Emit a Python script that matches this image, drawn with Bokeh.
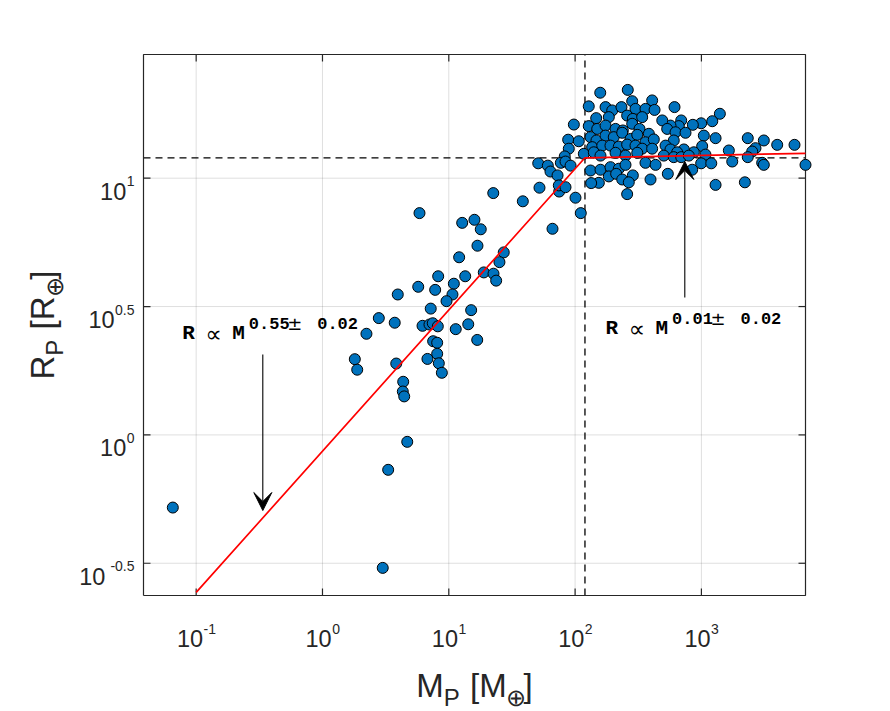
import numpy as np
from bokeh.plotting import figure
from bokeh.models import Range1d, Arrow, VeeHead
from bokeh.core.properties import value
from bokeh.embed import file_html
from bokeh.resources import INLINE

# ---------------------------------------------------------------------------
# Planet sample: log10 of mass [M_earth] and log10 of radius [R_earth]
# ---------------------------------------------------------------------------
small_log_mass = [-1.185, 0.477, 0.520, 0.671, 0.639, 0.636, 0.647, 0.584, 0.256, 0.275,
                  0.348, 0.446, 0.572, 0.596, 0.758, 0.892, 1.040, 1.029, 0.982, 0.857,
                  0.792, 0.847, 0.873, 0.913, 0.876, 0.908, 0.831, 0.908, 0.921, 0.945,
                  1.055, 1.154, 1.177, 1.225]
small_log_radius = [-0.283, -0.518, -0.136, -0.027, 0.207, 0.169, 0.150, 0.278, 0.295, 0.254,
                    0.394, 0.455, 0.437, 0.547, 0.577, 0.565, 0.589, 0.547, 0.521, 0.492,
                    0.425, 0.430, 0.435, 0.423, 0.365, 0.359, 0.296, 0.316, 0.279, 0.242,
                    0.412, 0.431, 0.486, 0.370]

mid_log_mass = [0.768, 1.106, 1.203, 1.253, 1.352, 1.586, 1.874, 2.045, 1.821, 1.227,
                1.082, 1.435, 1.401, 1.277, 1.354, 1.375, 1.130, 0.916]
mid_log_radius = [0.864, 0.826, 0.838, 0.801, 0.942, 0.910, 0.948, 0.864, 0.803, 0.737,
                  0.692, 0.711, 0.673, 0.633, 0.628, 0.601, 0.618, 0.618]

giant_log_mass = [2.199, 2.417, 2.452, 2.610, 2.108, 2.241, 2.294, 2.367, 2.478, 2.557,
                  2.629, 2.167, 2.267, 2.412, 2.457, 2.531, 1.990, 2.108, 2.175, 2.241,
                  2.320, 2.378, 2.452, 2.510, 2.584, 1.945, 2.029, 2.122, 2.169, 2.241,
                  2.306, 2.373, 2.439, 2.492, 2.557, 2.623, 1.950, 2.135, 2.215, 2.280,
                  2.346, 2.412, 2.478, 2.531, 2.610, 1.918, 2.069, 2.148, 2.201, 2.320,
                  2.399, 2.492, 2.557, 2.637, 1.708, 1.784, 1.805, 1.861, 1.887, 1.924,
                  1.964, 2.122, 2.201, 2.280, 2.346, 2.399, 2.457, 2.267, 2.325, 2.188,
                  2.373, 2.425, 2.597, 1.718, 1.871, 1.924, 2.003, 2.412, 2.127]
giant_log_radius = [1.333, 1.344, 1.300, 1.303, 1.280, 1.277, 1.264, 1.277, 1.270, 1.270,
                    1.266, 1.234, 1.238, 1.244, 1.231, 1.238, 1.209, 1.203, 1.192, 1.205,
                    1.192, 1.186, 1.212, 1.192, 1.173, 1.150, 1.144, 1.160, 1.147, 1.166,
                    1.160, 1.177, 1.153, 1.169, 1.140, 1.151, 1.115, 1.121, 1.127, 1.127,
                    1.123, 1.131, 1.127, 1.115, 1.115, 1.085, 1.095, 1.101, 1.088, 1.099,
                    1.088, 1.099, 1.060, 1.052, 1.058, 1.049, 1.026, 1.011, 1.060, 1.065,
                    1.049, 1.030, 1.033, 1.043, 1.037, 1.052, 1.011, 1.007, 1.017, 0.982,
                    0.995, 0.984, 0.995, 0.963, 0.972, 0.965, 0.924, 0.938, 0.981]

heavy_log_mass = [2.787, 3.146, 3.086, 2.998, 2.932, 2.840, 2.821, 2.755, 2.690, 2.729,
                  2.795, 2.874, 3.019, 3.112, 3.367, 3.494, 3.600, 3.737, 3.428, 3.402,
                  3.217, 3.006, 2.940, 2.861, 2.781, 2.716, 2.755, 2.808, 2.702, 2.781,
                  2.840, 2.900, 3.032, 3.367, 2.998, 3.078, 3.244, 3.481, 3.494, 3.824,
                  2.927, 2.734, 3.112, 3.344]
heavy_log_radius = [1.277, 1.251, 1.222, 1.214, 1.208, 1.225, 1.203, 1.205, 1.225, 1.192,
                    1.179, 1.177, 1.166, 1.156, 1.156, 1.147, 1.130, 1.130, 1.117, 1.104,
                    1.108, 1.125, 1.101, 1.112, 1.147, 1.127, 1.112, 1.101, 1.088, 1.082,
                    1.082, 1.088, 1.092, 1.082, 1.058, 1.058, 1.065, 1.060, 1.052, 1.052,
                    1.033, 1.017, 0.974, 0.984]

# Broken power-law fit  R ∝ M^alpha
break_log_mass = 2.078
break_log_radius = 1.0795
alpha_low, alpha_high, alpha_err = 0.55, 0.01, 0.02
fit_log_mass_start = -1.0

# Axis decorations
x_tick_exponents = [-1, 0, 1, 2, 3]
y_tick_exponents = [-0.5, 0, 0.5, 1]
x_tick_texts = ["-1", "0", "1", "2", "3"]
y_tick_texts = ["-0.5", "0", "0.5", "1"]

# ---------------------------------------------------------------------------
log_mass = np.array(small_log_mass + mid_log_mass + giant_log_mass + heavy_log_mass)
log_radius = np.array(small_log_radius + mid_log_radius + giant_log_radius + heavy_log_radius)
mass = 10.0 ** log_mass
radius = 10.0 ** log_radius

# Axes box limits (log10) and where the box sits on the page
X_LO, X_HI = -1.417, float(log_mass.max())
Y_LO, Y_HI = -0.6256, 1.4819
W, H = 890, 711
FL, FR, FT, FB = 143, 805, 54, 595

# The plotting frame spans the whole page, so the scales are extended to
# put the axes box at FL..FR / FT..FB and leave room for labels around it.
PPD_X = (FR - FL) / (X_HI - X_LO)          # pixels per decade
PPD_Y = (FB - FT) / (Y_HI - Y_LO)
CX0, CX1 = X_LO - FL / PPD_X, X_HI + (W - FR) / PPD_X
CY0, CY1 = Y_LO - (H - FB) / PPD_Y, Y_HI + FT / PPD_Y

p = figure(width=W, height=H, x_axis_type="log", y_axis_type="log",
           x_range=Range1d(10 ** CX0, 10 ** CX1), y_range=Range1d(10 ** CY0, 10 ** CY1),
           x_axis_location=None, y_axis_location=None,
           output_backend="svg", toolbar_location=None, title=None,
           min_border=0, background_fill_color="white", border_fill_color="white",
           outline_line_color=None)
p.grid.visible = False

AX = "#262626"
xl, xh, yl, yh = 10 ** X_LO, 10 ** X_HI, 10 ** Y_LO, 10 ** Y_HI
xticks = [10.0 ** e for e in x_tick_exponents]
yticks = [10.0 ** e for e in y_tick_exponents]

# Grid
p.segment(x0=xticks, y0=[yl] * len(xticks), x1=xticks, y1=[yh] * len(xticks),
          line_color=AX, line_alpha=0.15, line_width=1)
p.segment(x0=[xl] * len(yticks), y0=yticks, x1=[xh] * len(yticks), y1=yticks,
          line_color=AX, line_alpha=0.15, line_width=1)

# Dashed guides through the break point, across the whole box
bm, br = 10 ** break_log_mass, 10 ** break_log_radius
p.segment(x0=[bm, xl], y0=[yl, br], x1=[bm, xh], y1=[yh, br],
          line_color="black", line_dash="7 5", line_width=1.3)

# Axes box with inward ticks on all four sides
p.line([xl, xh, xh, xl, xl], [yl, yl, yh, yh, yl], line_color=AX, line_width=1.2)
TICK = 7
ty_lo, ty_hi = 10 ** (Y_LO + TICK / PPD_Y), 10 ** (Y_HI - TICK / PPD_Y)
tx_lo, tx_hi = 10 ** (X_LO + TICK / PPD_X), 10 ** (X_HI - TICK / PPD_X)
n = len(xticks)
p.segment(x0=xticks * 2, y0=[yl] * n + [yh] * n, x1=xticks * 2, y1=[ty_lo] * n + [ty_hi] * n,
          line_color=AX, line_width=1.2)
m = len(yticks)
p.segment(x0=[xl] * m + [xh] * m, y0=yticks * 2, x1=[tx_lo] * m + [tx_hi] * m, y1=yticks * 2,
          line_color=AX, line_width=1.2)

# Planets
p.scatter(mass, radius, size=11, marker="circle", fill_color="#0072BD",
          line_color="black", line_width=1)

# Fitted broken power law
fit_log_mass = np.array([fit_log_mass_start, break_log_mass, X_HI])
fit_log_radius = np.where(fit_log_mass < break_log_mass,
                          break_log_radius + alpha_low * (fit_log_mass - break_log_mass),
                          break_log_radius + alpha_high * (fit_log_mass - break_log_mass))
p.line(10 ** fit_log_mass, 10 ** fit_log_radius, line_color="red", line_width=1.7)


# ---------------------------------------------------------------------------
# Page-pixel helpers for text placement
def sx(px):
    return 10 ** (CX0 + px / PPD_X)


def sy(py):
    return 10 ** (CY1 - py / PPD_Y)


def tick_px(e):
    return (e - CX0) * PPD_X


def tick_py(e):
    return (CY1 - e) * PPD_Y


EM = {"M": 0.833, "R": 0.722, "P": 0.667, " ": 0.278, "[": 0.278, "]": 0.278,
      "-": 0.333, ".": 0.278, "\u2295": 0.70}


def text_width(s, size):
    return sum(EM.get(c, 0.556) for c in s) * size


def add_text(px, py, text, size, font="Liberation Sans", style="normal",
             align="left", angle=0.0, color=AX):
    p.text(x=[sx(px)], y=[sy(py)], text=[text], text_font=value(font),
           text_font_size=value(f"{size}px"), text_font_style=style,
           text_align=align, text_baseline="alphabetic", angle=angle,
           text_color=color)


# Tick labels: 10 with a raised exponent
BASE, SUP = 23.5, 14
for e, s in zip(x_tick_exponents, x_tick_texts):
    w10, ws = text_width("10", BASE), text_width(s, SUP)
    j = tick_px(e) + (w10 - ws) / 2
    add_text(j, FB + 43, "10", BASE, align="right")
    add_text(j + 0.5, FB + 33, s, SUP, align="left")

for e, s in zip(y_tick_exponents, y_tick_texts):
    ws = text_width(s, SUP)
    right = FL - 9
    gap = 5 if s.startswith("-") else 0.5
    add_text(right, tick_py(e) + 3, s, SUP, align="right")
    add_text(right - ws - gap, tick_py(e) + 13, "10", BASE, align="right")

# Axis titles  M_P [M_⊕]  and  R_P [R_⊕]  laid out piece by piece
TITLE, SUB, DROP = 33, 24, 12


def title_pieces(letter):
    # (text, size, drop below baseline, extra advance before the piece)
    return [(letter, TITLE, 0, 0), ("P", SUB, DROP, 0), ("[", TITLE, 0, 0.278 * TITLE + 1),
            (letter, TITLE, 0, 0), ("\u2295", SUB, DROP, -1), ("]", TITLE, 0, 1)]


def title_length(pieces):
    return sum(text_width(t, s) + a for t, s, _, a in pieces)


pieces = title_pieces("M")
cx = (FL + FR) / 2 - title_length(pieces) / 2
for t, s, d, a in pieces:
    cx += a
    add_text(cx, 685 + d, t, s)
    cx += text_width(t, s)

pieces = title_pieces("R")
cy = (FT + FB) / 2 + title_length(pieces) / 2
for t, s, d, a in pieces:
    cy -= a
    add_text(42 + d, cy, t, s, angle=np.pi / 2)
    cy -= text_width(t, s)


# Power-law annotations with arrows
def fit_label(px, py, exponent):
    mono = "Liberation Mono"
    add_text(px, py, "R", 21, font=mono, style="bold", color="black")
    add_text(px + 23, py + 0.5, "\u221d", 23, font="DejaVu Sans", color="black")
    add_text(px + 50, py, "M", 21, font=mono, style="bold", color="black")
    add_text(px + 66.6, py - 10, f"{exponent:.2f}", 17, font=mono, style="bold", color="black")
    add_text(px + 105, py - 10, "\u00b1", 18, font="DejaVu Sans", color="black")
    add_text(px + 135, py - 10, f"{alpha_err:.2f}", 17, font=mono, style="bold", color="black")


fit_label(181.7, 333.3, alpha_low)
fit_label(605, 328.3, alpha_high)

for ax_px, y0, y1 in [(262.3, 354, 510), (684.3, 297, 161)]:
    p.add_layout(Arrow(end=VeeHead(size=18, fill_color="black", line_color="black"),
                       x_start=sx(ax_px), y_start=sy(y0), x_end=sx(ax_px), y_end=sy(y1),
                       line_color="black", line_width=1.1))

open("out.html", "w").write(file_html(p, INLINE))
